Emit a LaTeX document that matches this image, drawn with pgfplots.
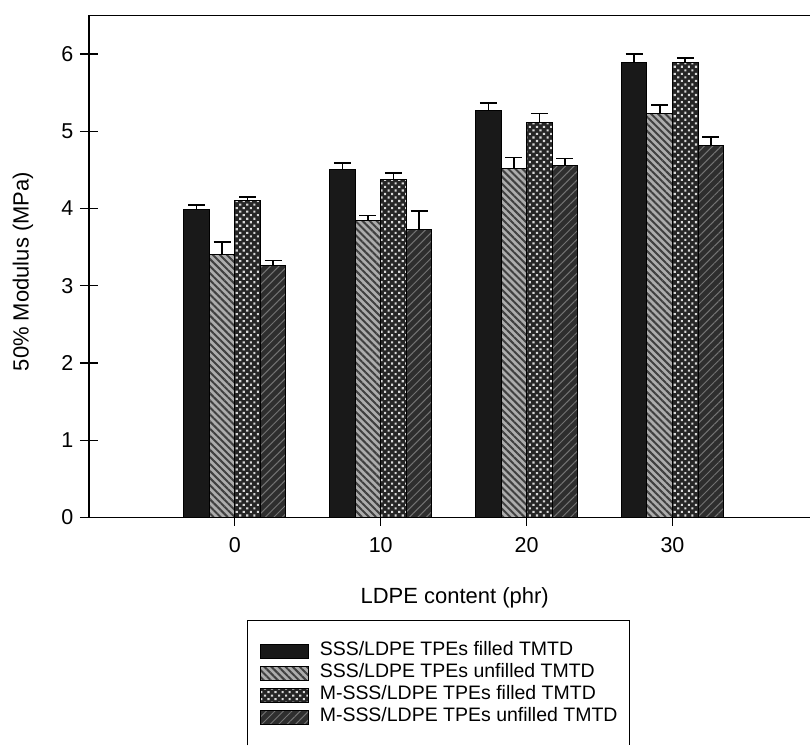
\documentclass[border=0pt]{standalone}
\usepackage{pgfplots}
\pgfplotsset{compat=1.18}
\usetikzlibrary{patterns.meta}
\usepackage{fontspec}
\setmainfont{Liberation Sans}
\begin{document}
\begin{tikzpicture}
\begin{axis}[
  scale only axis,
  width=722pt, height=502.5pt,
  xmin=-1, xmax=3.945, ymin=0, ymax=6.5,
  axis x line=box, axis y line=left,
  x axis line style={-}, y axis line style={-},
  axis line style={line width=1.3pt},
  xtick={0,1,2,3}, xticklabels={0,10,20,30},
  xtick pos=lower,
  ytick=\empty,
  extra y ticks={0,1,2,3,4,5,6},
  extra y tick style={major tick length=18pt, tick align=center},
  major tick length=8pt,
  tick align=outside,
  tick style={line width=1.3pt, black},
  /pgf/number format/assume math mode=true,
  tick label style={font=\fontsize{21.5}{25}\selectfont},
  xticklabel style={yshift=-8pt},
  yticklabel style={xshift=-3pt},
  xlabel={LDPE content (phr)},
  ylabel={50\% Modulus (MPa)},
  every axis x label/.style={at={(axis description cs:0.507,-0.159)}, anchor=center, font=\fontsize{22}{26}\selectfont},
  every axis y label/.style={at={(axis description cs:-0.0914,0.49)}, anchor=center, rotate=90, font=\fontsize{22}{26}\selectfont},
  extra description/.code={\draw[line width=1.3pt] (rel axis cs:0,1) -- (rel axis cs:1,1);},
  ybar=0pt, bar width=0.175,
  error bars/y dir=plus, error bars/y explicit,
  error bars/error mark=-,
  error bars/error bar style={line width=1.6pt, black},
  error bars/error mark options={rotate=90, line width=1.6pt, mark size=8.5pt, black},
  legend image code/.code={\draw[#1] (0pt,-7pt) rectangle (48pt,7pt);},
  legend cell align=left,
  legend style={name=leg, at={(axis description cs:0.22,-0.205)}, anchor=north west,
    draw=none, inner xsep=12pt, inner ysep=20pt,
    column sep=11pt, row sep=0pt,
    font=\fontsize{19.5}{23}\selectfont,
    nodes={inner sep=0pt, text height=15pt, text depth=7pt}},
]
\addplot[draw=black, line width=1pt, fill=black!90, bar shift=-0.2625]
  table[x=x, y=y, y error=e] {
x y e
0 3.99 0.06
1 4.51 0.08
2 5.27 0.10
3 5.89 0.11
};
\addlegendentry{SSS/LDPE TPEs filled TMTD}
\addplot[draw=black, line width=1pt, fill=gray!65, bar shift=-0.0875,
  postaction={pattern={Lines[angle=-45,distance=5pt,line width=2pt]}, pattern color=black!75}]
  table[x=x, y=y, y error=e] {
x y e
0 3.41 0.16
1 3.85 0.06
2 4.52 0.14
3 5.23 0.11
};
\addlegendentry{SSS/LDPE TPEs unfilled TMTD}
\addplot[draw=black, line width=1pt, fill=black!85, bar shift=0.0875,
  postaction={pattern={Dots[angle=45,distance=5pt,radius=1.5pt]}, pattern color=white!85!black}]
  table[x=x, y=y, y error=e] {
x y e
0 4.10 0.05
1 4.38 0.08
2 5.12 0.11
3 5.89 0.06
};
\addlegendentry{M-SSS/LDPE TPEs filled TMTD}
\addplot[draw=black, line width=1pt, fill=black!82, bar shift=0.2625,
  postaction={pattern={Lines[angle=45,distance=6pt,line width=1pt]}, pattern color=black!55}]
  table[x=x, y=y, y error=e] {
x y e
0 3.26 0.07
1 3.73 0.24
2 4.56 0.09
3 4.82 0.11
};
\addlegendentry{M-SSS/LDPE TPEs unfilled TMTD}
\end{axis}
\draw[line width=1.2pt] (leg.south west |- 0,-228pt) |- (leg.north east) -- (leg.south east |- 0,-228pt);
\path (-89pt,-228pt) rectangle (722pt,518pt);
\end{tikzpicture}
\end{document}
